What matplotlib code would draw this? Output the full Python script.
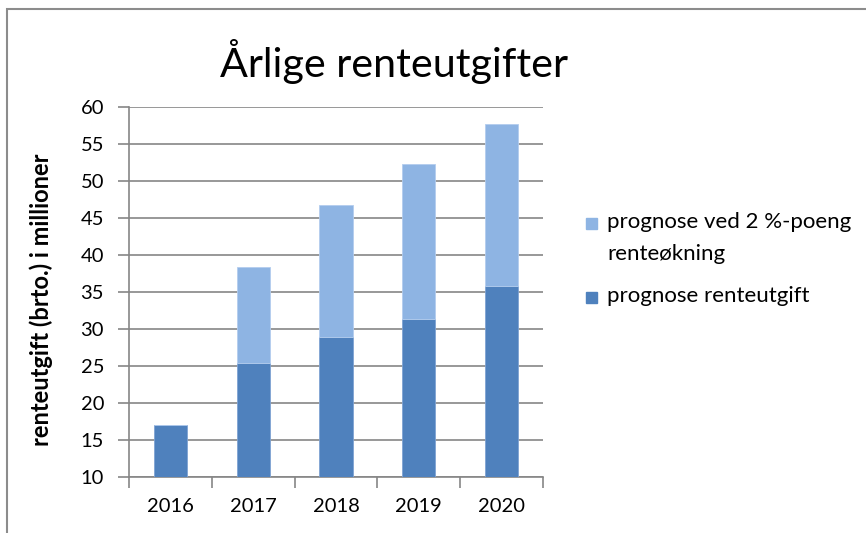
import matplotlib.pyplot as plt
from matplotlib.patches import Rectangle
import numpy as np

years = ["2016", "2017", "2018", "2019", "2020"]
base = [17.1, 25.5, 29.0, 31.4, 35.9]          # prognose renteutgift
total = [17.1, 38.4, 46.8, 52.3, 57.8]         # med 2 %-poeng renteøkning
extra = [t - b for t, b in zip(total, base)]

dark = "#4F81BD"
light = "#8EB4E3"
grid = "#868686"

plt.rcParams["font.family"] = ["Lato", "DejaVu Sans"]

fig = plt.figure(figsize=(8.66, 5.33), dpi=100)
ax = fig.add_axes([0.149, 0.1045, 0.478, 0.6942])

x = np.arange(len(years))
b1 = ax.bar(x, base, 0.4, bottom=0, color=dark, edgecolor="#7fa3d3", linewidth=0.6, zorder=3)
b2 = ax.bar(x, extra, 0.4, bottom=base, color=light, edgecolor="#b3cdee", linewidth=0.6, zorder=3)

ax.set_ylim(10, 60)
ax.set_xlim(-0.5, len(years) - 0.5)
ax.set_yticks(range(10, 61, 5))
ax.set_xticks(x)
ax.set_xticklabels(years)
ax.set_xticks(np.arange(-0.5, len(years)), minor=True)
ax.tick_params(axis="x", which="major", length=0, pad=15, labelsize=14.5)
ax.tick_params(axis="x", which="minor", length=8, color=grid, width=1.2)
ax.tick_params(axis="y", length=8, color=grid, width=1.2, pad=10, labelsize=14.5)
ax.yaxis.grid(True, color=grid, linewidth=1.2, zorder=0)
for s in ["top", "right"]:
    ax.spines[s].set_visible(False)
for s in ["left", "bottom"]:
    ax.spines[s].set_color(grid)
    ax.spines[s].set_linewidth(1.2)

ax.set_ylabel("renteutgift (brto.) i millioner", fontsize=17, fontweight="bold")
ax.yaxis.set_label_coords(-0.184, 0.48)

fig.text(0.455, 0.885, "Årlige renteutgifter", fontsize=29.7, ha="center", va="center")

# legend, drawn by hand so the swatch sits on the first line of the label
W, H = 866, 533
leg_items = [(light, "prognose ved 2 %-poeng\nrenteøkning", 223), (dark, "prognose renteutgift", 297)]
for col, lab, yc in leg_items:
    fig.patches.append(Rectangle((586 / W, 1 - (yc + 6) / H), 11 / W, 11 / H,
                                 transform=fig.transFigure, color=col))
    fig.text(607 / W, 1 - (yc - 11) / H, lab, fontsize=16, ha="left", va="top", linespacing=1.72)

# outer chart border
fig.patches.append(Rectangle((7 / W, -0.1), 1.2, 1 - 9 / H + 0.1, transform=fig.transFigure,
                             fill=False, edgecolor="#8c8c8c", linewidth=1.5))

fig.savefig("out.png", dpi=100)
